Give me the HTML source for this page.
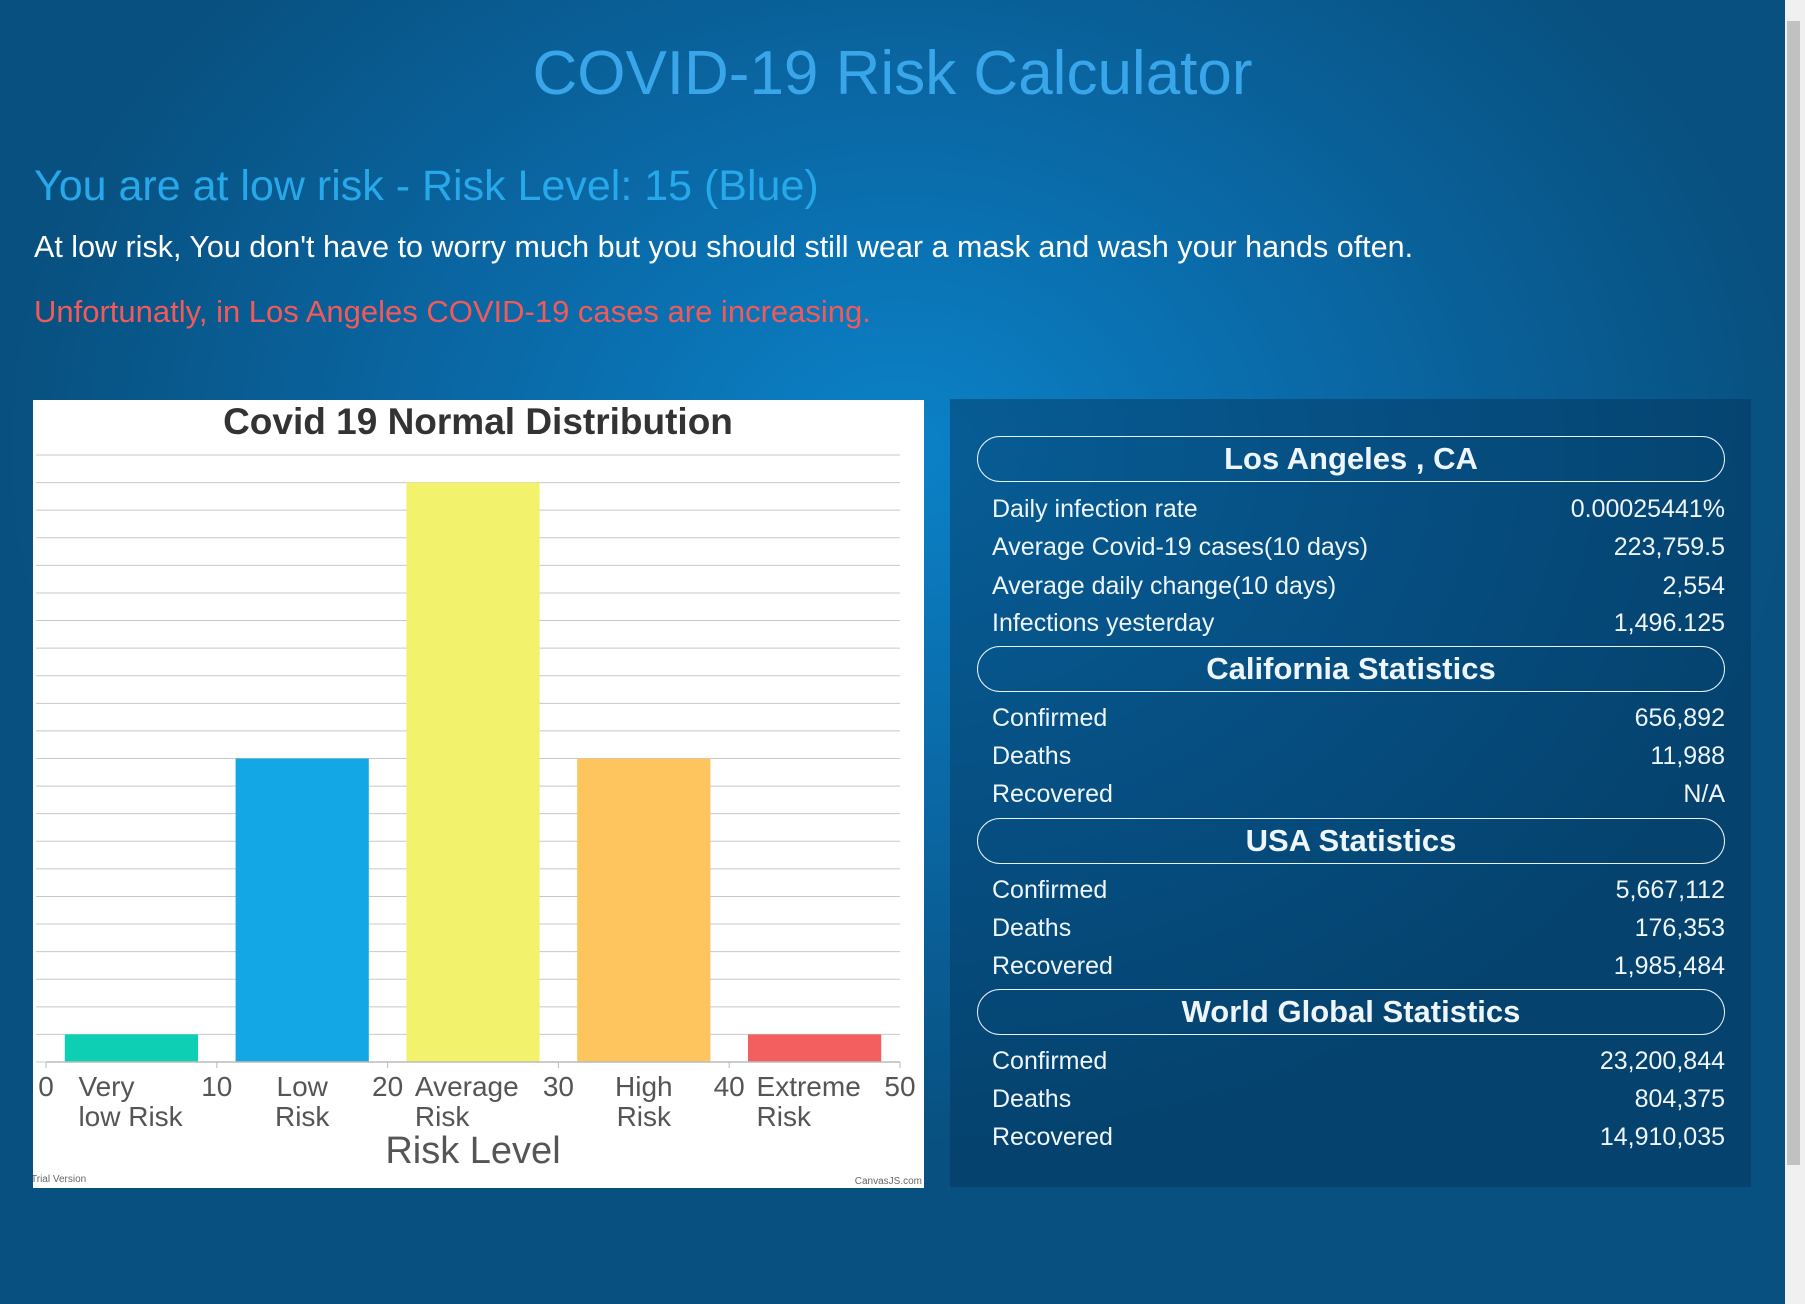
<!DOCTYPE html>
<html><head><meta charset="utf-8">
<style>
*{margin:0;padding:0;box-sizing:border-box}
body{width:1805px;height:1304px;overflow:hidden;position:relative;font-family:"Liberation Sans",sans-serif;
background:radial-gradient(ellipse 900px 700px at 900px 450px,#0b82c8 0%,#0a6aa8 45%,#08507f 100%);}
.abs{position:absolute}
#title{left:0;width:1785px;top:38px;text-align:center;color:#3aa6ea;font-size:62px;font-weight:normal}
#risk{left:34px;top:162px;color:#27a8ea;font-size:43px;font-weight:300}
#advice{left:34px;top:230px;color:#fff;font-size:30.5px}
#trend{left:34px;top:294px;color:#f25a5a;font-size:31px}
#chart{left:33px;top:400px;width:891px;height:788px;background:#fff}
#panel{left:950px;top:399px;width:801px;height:788px;background:rgba(3,52,90,0.45)}
.pill{position:absolute;left:27px;width:748px;height:46px;border:1.5px solid #e8f2fa;border-radius:23px;color:#eef5fb;font-weight:bold;font-size:31px;text-align:center;line-height:44px}
.row{position:absolute;left:42px;width:733px;color:#eef5fb;font-size:25px;height:32px;line-height:32px}
.row span{position:absolute;right:0}
#sb{left:1785px;top:0;width:20px;height:1304px;background:#f0f0f0}
#thumb{left:1787px;top:21px;width:13px;height:1144px;background:#c1c1c1}
</style></head><body>
<div class="abs" id="title">COVID-19 Risk Calculator</div>
<div class="abs" id="risk">You are at low risk - Risk Level: 15 (Blue)</div>
<div class="abs" id="advice">At low risk, You don't have to worry much but you should still wear a mask and wash your hands often.</div>
<div class="abs" id="trend">Unfortunatly, in Los Angeles COVID-19 cases are increasing.</div>

<div class="abs" id="chart">
<svg id="svg" width="891" height="788" font-family="Liberation Sans, sans-serif"></svg>
</div>

<div class="abs" id="panel">
<div class="pill" style="top:37px">Los Angeles , CA</div>
<div class="row" style="top:94px">Daily infection rate<span>0.00025441%</span></div>
<div class="row" style="top:132px">Average Covid-19 cases(10 days)<span>223,759.5</span></div>
<div class="row" style="top:171px">Average daily change(10 days)<span>2,554</span></div>
<div class="row" style="top:208px">Infections yesterday<span>1,496.125</span></div>
<div class="pill" style="top:247px">California Statistics</div>
<div class="row" style="top:303px">Confirmed<span>656,892</span></div>
<div class="row" style="top:341px">Deaths<span>11,988</span></div>
<div class="row" style="top:379px">Recovered<span>N/A</span></div>
<div class="pill" style="top:419px">USA Statistics</div>
<div class="row" style="top:475px">Confirmed<span>5,667,112</span></div>
<div class="row" style="top:513px">Deaths<span>176,353</span></div>
<div class="row" style="top:551px">Recovered<span>1,985,484</span></div>
<div class="pill" style="top:590px">World Global Statistics</div>
<div class="row" style="top:646px">Confirmed<span>23,200,844</span></div>
<div class="row" style="top:684px">Deaths<span>804,375</span></div>
<div class="row" style="top:722px">Recovered<span>14,910,035</span></div>
</div>

<div class="abs" id="sb"></div>
<div class="abs" id="thumb"></div>

<script>
const categories=["Very|low Risk","Low|Risk","Average|Risk","High|Risk","Extreme|Risk"];
const xCenters=[5,15,25,35,45];
const values=[1,11,21,11,1];
const colors=["#0ccfb4","#13a7e5","#f3f26c","#fec55f","#f35f5f"];
const xTicks=[0,10,20,30,40,50];
const yMax=22, yStep=1;
const svg=document.getElementById('svg');
const NS="http://www.w3.org/2000/svg";
const L=13,R=867,T=55,B=662;
const xs=v=>L+(v-0)/(50-0)*(R-L);
const ys=v=>B-v/yMax*(B-T);
function mk(t,a,txt){const e=document.createElementNS(NS,t);for(const k in a)e.setAttribute(k,a[k]);if(txt!==undefined)e.textContent=txt;svg.appendChild(e);return e;}
let t=mk('text',{x:445,y:34,'text-anchor':'middle','font-size':37,'font-weight':'bold',fill:'#333'},'Covid 19 Normal Distribution');


for(let v=0;v<=yMax;v+=yStep){
 const g=mk('line',{x1:L-10,x2:R,y1:ys(v),y2:ys(v),stroke:'#c8c8c8','stroke-width':1});
 
 
}
values.forEach((v,i)=>{
 const w=xs(3.9)-xs(0);
 const r=mk('rect',{x:xs(xCenters[i])-w,y:ys(v),width:2*w,height:ys(0)-ys(v),fill:colors[i]});
 
 
 const parts=categories[i].split('|');
 parts.forEach((p,j)=>{
  const c=mk('text',{x:xs(xCenters[i]),y:B+34+j*30,'text-anchor':i==0||i==4||i==2?'start':'middle','font-size':28,fill:'#555'},p);
  if(i==0)c.setAttribute('x',xs(1.9));
  if(i==2)c.setAttribute('x',xs(21.6));
  if(i==4)c.setAttribute('x',xs(41.6));
  
  
 });
});
mk('line',{x1:L,x2:R,y1:B,y2:B,stroke:'#bbb','stroke-width':1.5});
xTicks.forEach(v=>{
 mk('line',{x1:xs(v),x2:xs(v),y1:B,y2:B+6,stroke:'#bbb'});
 const c=mk('text',{x:xs(v),y:B+34,'text-anchor':'middle','font-size':28,fill:'#555'},String(v));
 
 
});
t=mk('text',{x:xs(25),y:763,'text-anchor':'middle','font-size':38,fill:'#555'},'Risk Level');


t=mk('text',{x:-2,y:782,'font-size':10,fill:'#666'},'Trial Version');


t=mk('text',{x:889,y:784,'text-anchor':'end','font-size':10,fill:'#666'},'CanvasJS.com');


</script>
</body></html>
